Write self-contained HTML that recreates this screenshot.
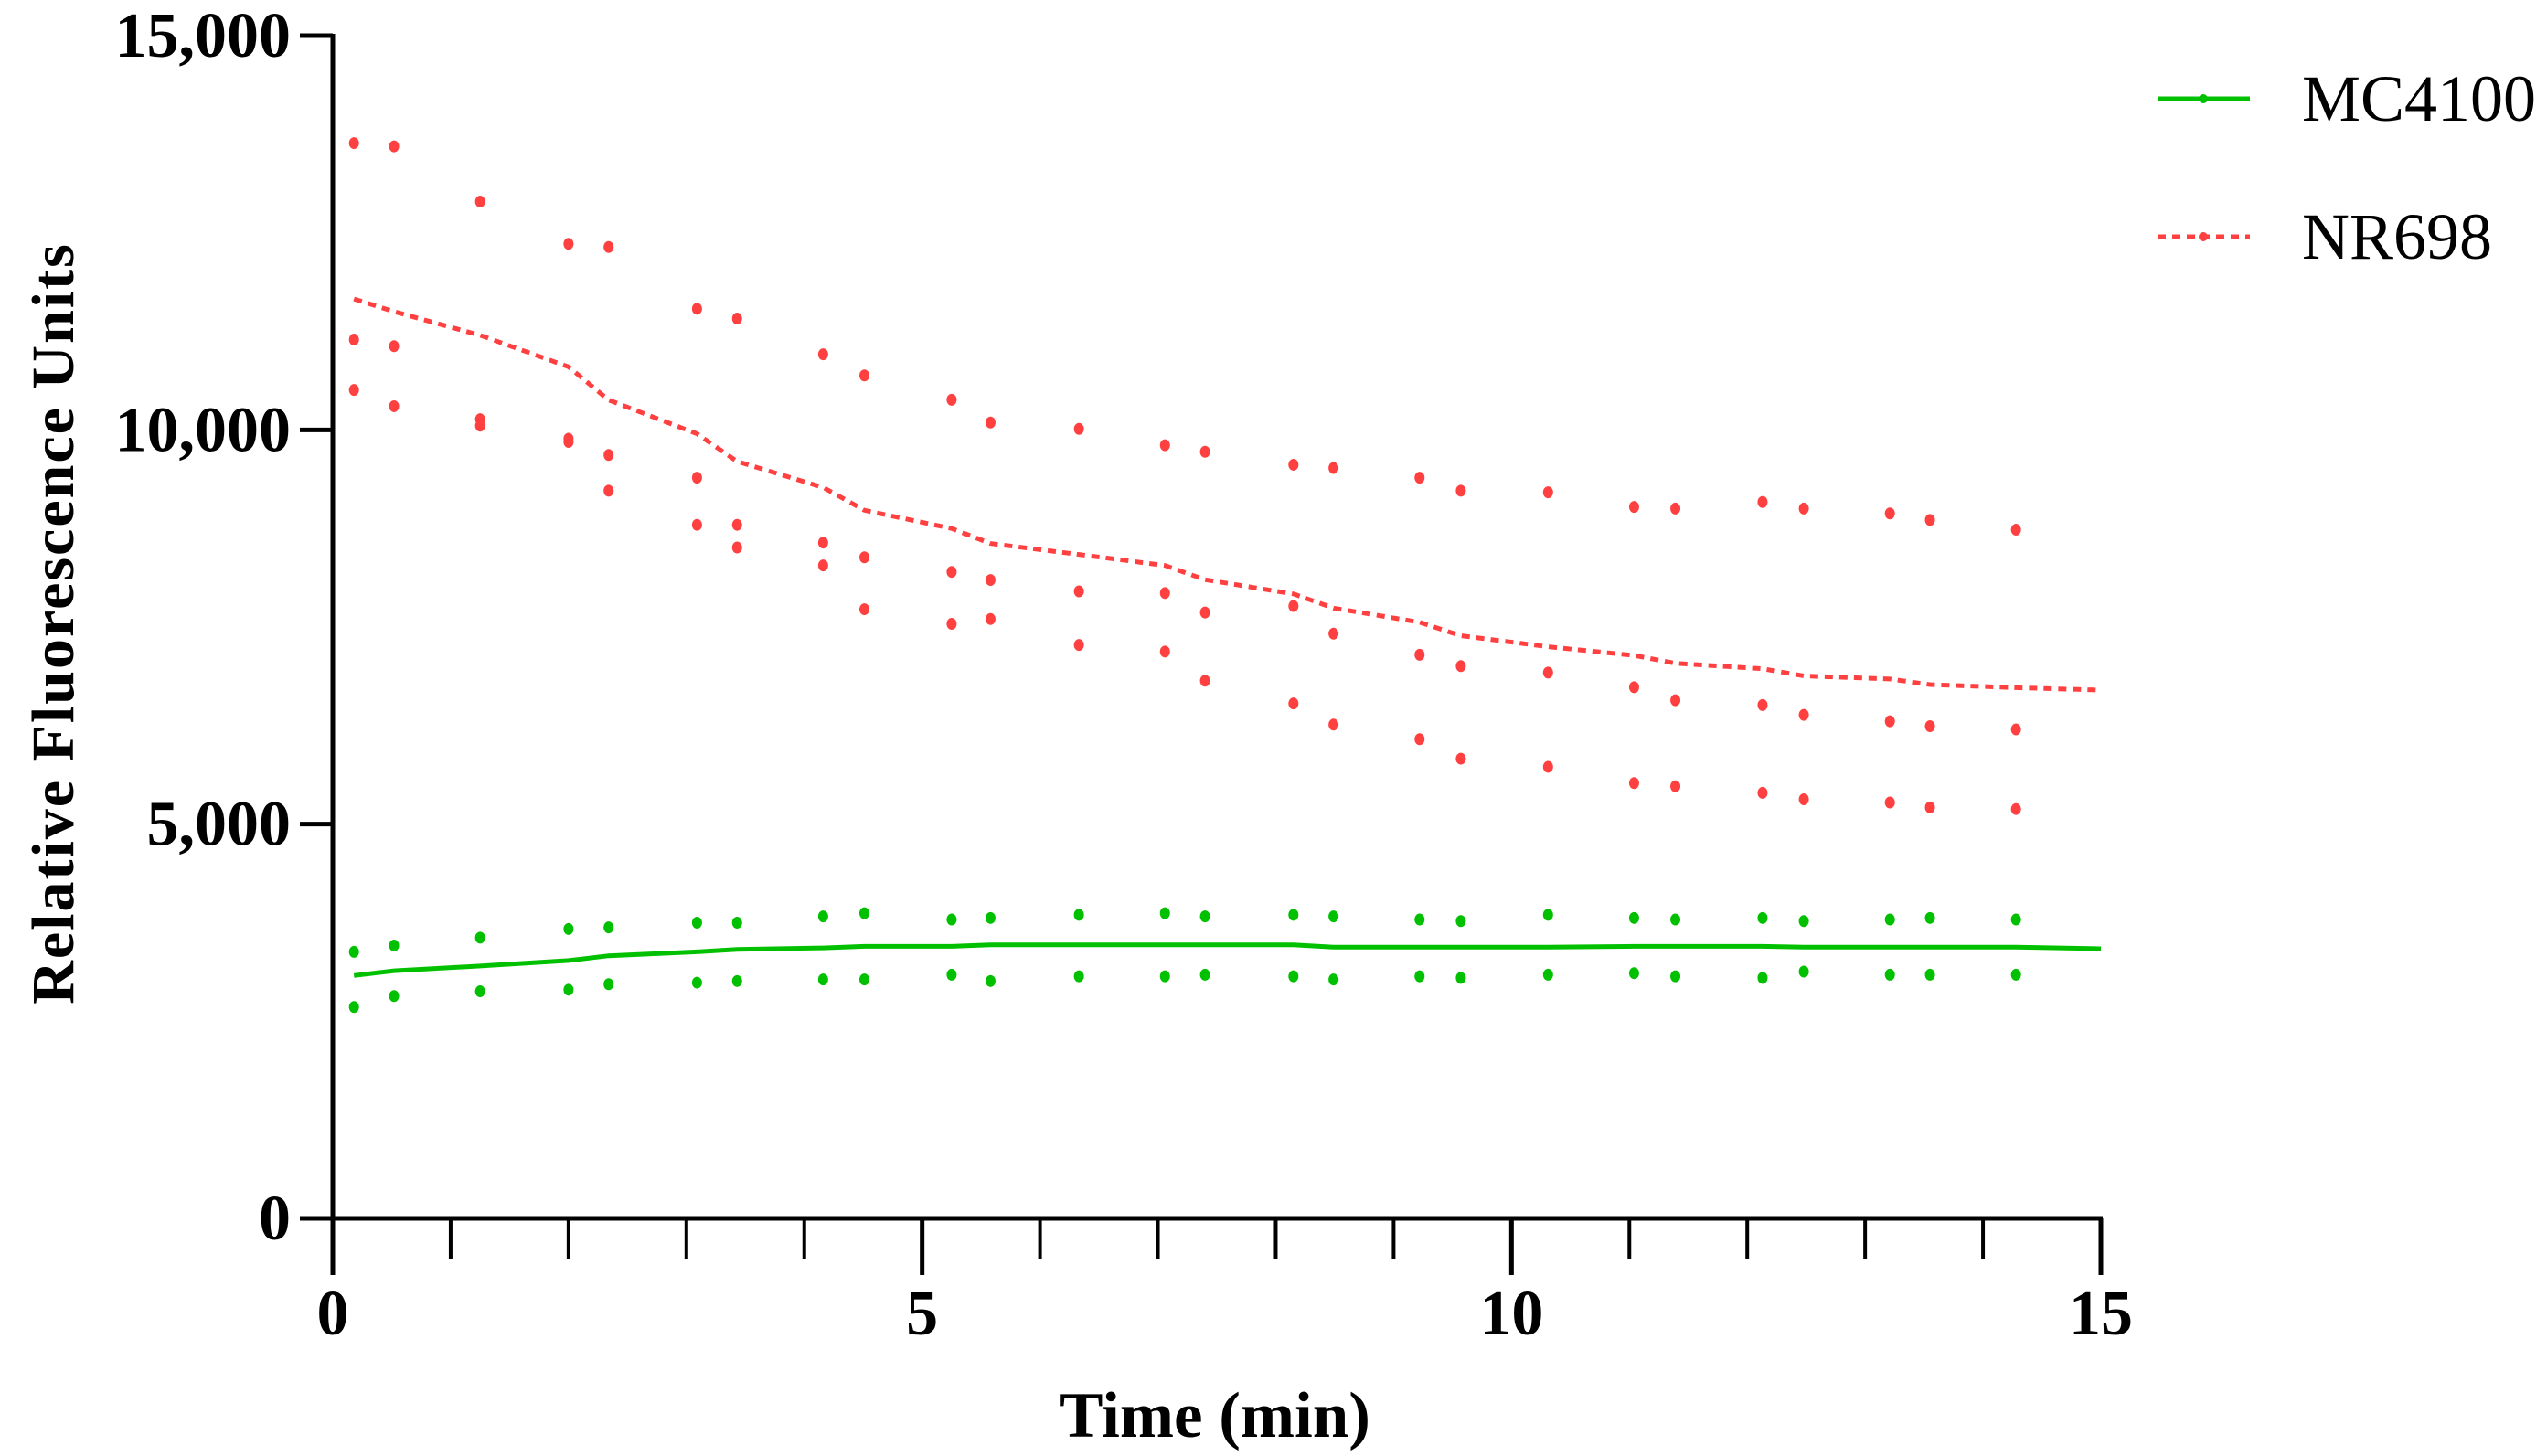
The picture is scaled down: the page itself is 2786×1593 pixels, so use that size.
<!DOCTYPE html>
<html><head><meta charset="utf-8"><style>
html,body{margin:0;padding:0;background:#fff;}
svg{display:block;}
text{font-family:"Liberation Serif",serif;}
</style></head><body>
<svg id="chart" width="2786" height="1593" viewBox="0 0 2786 1593"></svg>
<script>
const times=[0.18,0.52,1.25,2.0,2.34,3.09,3.43,4.16,4.51,5.25,5.58,6.33,7.06,7.4,8.15,8.49,9.22,9.57,10.31,11.04,11.39,12.13,12.48,13.21,13.55,14.28];
const nrHigh=[13637,13596,12896,12360,12319,11536,11412,10959,10691,10382,10094,10012,9806,9723,9558,9517,9394,9229,9208,9023,9002,9085,9002,8940,8858,8734];
const nrMid=[11145,11062,10135,9888,9682,9394,8796,8570,8384,8199,8096,7952,7931,7684,7766,7416,7148,7004,6922,6736,6571,6510,6386,6304,6242,6201];
const nrLow=[10506,10300,10053,9847,9229,8796,8508,8281,7725,7540,7601,7272,7189,6819,6530,6262,6077,5830,5727,5521,5480,5397,5315,5274,5212,5191];
const mcHigh=[3380,3460,3560,3670,3690,3750,3750,3830,3870,3790,3810,3850,3870,3830,3850,3830,3790,3770,3850,3810,3790,3810,3770,3790,3810,3790];
const mcLow=[2680,2820,2880,2900,2970,2990,3010,3030,3030,3090,3010,3070,3070,3090,3070,3030,3070,3050,3090,3110,3070,3050,3130,3090,3090,3090];
const meanTimes=[0.18,0.52,1.25,2.0,2.34,3.09,3.43,4.16,4.51,5.25,5.58,6.33,7.06,7.4,8.15,8.49,9.22,9.57,10.31,11.04,11.39,12.13,12.48,13.21,13.55,14.28,15];
const nrMean=[11660,11500,11200,10800,10380,9950,9600,9270,8980,8750,8560,8420,8280,8100,7920,7740,7560,7390,7250,7140,7040,6970,6880,6840,6770,6730,6700];
const mcMean=[3080,3140,3200,3270,3330,3380,3410,3430,3450,3450,3470,3470,3470,3470,3470,3440,3440,3440,3440,3450,3450,3450,3440,3440,3440,3440,3420];
const yTicks=[0,5000,10000,15000];
const yTickLabels=["0","5,000","10,000","15,000"];
const xTicks=[0,5,10,15];
const xTickLabels=["0","5","10","15"];

const X0=364,X1=2298,Y0=1333,Y1=39;
const sx=t=>X0+(t/15)*(X1-X0);
const sy=v=>Y0-(v/15000)*(Y0-Y1);
const svg=document.getElementById('chart');
const NS='http://www.w3.org/2000/svg';
function mk(tag,attrs,parent){const e=document.createElementNS(NS,tag);for(const k in attrs)e.setAttribute(k,attrs[k]);(parent||svg).appendChild(e);return e;}

let e=mk('line',{x1:X0,y1:Y1-2,x2:X0,y2:Y0+62,stroke:'#000','stroke-width':5});


e=mk('line',{x1:X0-36,y1:Y0,x2:X1+2,y2:Y0,stroke:'#000','stroke-width':5});


yTicks.forEach((v,i)=>{
  e=mk('line',{x1:X0-36,y1:sy(v),x2:X0,y2:sy(v),stroke:'#000','stroke-width':5});
  
  
  e=mk('text',{x:318,y:sy(v)+23,'text-anchor':'end','font-size':70,'font-weight':'bold'});
  e.textContent=yTickLabels[i];
  
  
});
for(let t=1;t<15;t++){
  if(t%5===0)continue;
  e=mk('line',{x1:sx(t),y1:Y0,x2:sx(t),y2:Y0+44,stroke:'#000','stroke-width':4});
  
  
}
xTicks.forEach((t,i)=>{
  e=mk('line',{x1:sx(t),y1:Y0,x2:sx(t),y2:Y0+62,stroke:'#000','stroke-width':5});
  
  
  e=mk('text',{x:sx(t),y:1460,'text-anchor':'middle','font-size':70,'font-weight':'bold'});
  e.textContent=xTickLabels[i];
  
  
});
e=mk('text',{x:1329,y:1572,'text-anchor':'middle','font-size':71,'font-weight':'bold'});
e.textContent='Time (min)';


e=mk('text',{x:0,y:0,'text-anchor':'middle','font-size':66,'font-weight':'bold','letter-spacing':2,transform:'translate(80,682) rotate(-90)'});
e.textContent='Relative Fluorescence Units';



function line(vals,color,dash,name,w){
  const d=meanTimes.map((t,i)=>(i?'L':'M')+sx(t).toFixed(1)+','+sy(vals[i]).toFixed(1)).join(' ');
  const p=mk('path',{d:d,fill:'none',stroke:color,'stroke-width':w});
  if(dash)p.setAttribute('stroke-dasharray',dash);
  
  
}
line(nrMean,'#ff4040','9 7','nr698-mean-line',5);
line(mcMean,'#00c000',null,'mc4100-mean-line',5);

function dots(vals,color,name){
  times.forEach((t,i)=>{
    const c=mk('ellipse',{cx:sx(t),cy:sy(vals[i]),rx:5.5,ry:6.5,fill:color});
    
    
  });
}
dots(nrHigh,'#ff4040','nr698-point');
dots(nrMid,'#ff4040','nr698-point');
dots(nrLow,'#ff4040','nr698-point');
dots(mcHigh,'#00c000','mc4100-point');
dots(mcLow,'#00c000','mc4100-point');

e=mk('line',{x1:2360,y1:108,x2:2461,y2:108,stroke:'#00c000','stroke-width':5});


e=mk('circle',{cx:2410,cy:108,r:5,fill:'#00c000'});


e=mk('text',{x:2518,y:132,'font-size':72});
e.textContent='MC4100';


e=mk('line',{x1:2360,y1:259,x2:2461,y2:259,stroke:'#ff4040','stroke-width':5,'stroke-dasharray':'9 7'});


e=mk('circle',{cx:2410,cy:259,r:5,fill:'#ff4040'});


e=mk('text',{x:2518,y:283,'font-size':72});
e.textContent='NR698';


</script>
</body></html>
